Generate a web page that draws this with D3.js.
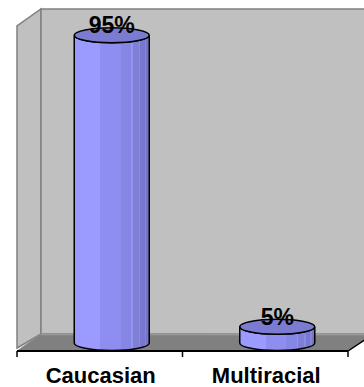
<!DOCTYPE html>
<html>
<head>
<meta charset="utf-8">
<script src="https://cdn.jsdelivr.net/npm/d3@7"></script>
<style>
  html, body { margin: 0; padding: 0; background: #fff; }
  svg { display: block; }
</style>
</head>
<body>
<svg id="chart" width="364" height="387"></svg>
<script>
// Data
const categories = ["Caucasian", "Multiracial"];
const values = [0.95, 0.05];
const valueLabels = ["95%", "5%"];

// Layout
const W = 364, H = 387;
const floorFront = 351;          // y of the front floor edge (category axis)
const plotLeft = 17, plotRight = 348;
const depthX = 24, depthY = -16; // 3-D depth offset of the back wall
const wallTop = 9;               // y of the back wall's top edge

const svg = d3.select("#chart");
const defs = svg.append("defs");

// Vertical shading bands on the cylinders
const grad = defs.append("linearGradient").attr("id", "cyl")
  .attr("x1", 0).attr("x2", 1).attr("y1", 0).attr("y2", 0);
const bands = [
  [0.00, "#9a9aff"], [0.35, "#9a9aff"], [0.35, "#8e8ef0"], [0.62, "#8e8ef0"],
  [0.62, "#8686e4"], [0.76, "#8686e4"], [0.76, "#9494ea"], [0.78, "#9494ea"],
  [0.78, "#7f7fd8"], [0.86, "#7f7fd8"], [0.86, "#8a8ae0"], [0.88, "#8a8ae0"],
  [0.88, "#7878d0"], [0.94, "#7878d0"], [0.94, "#8484da"], [0.96, "#8484da"],
  [0.96, "#7474cc"], [1.00, "#7474cc"]
];
bands.forEach(([o, c]) => grad.append("stop").attr("offset", o).attr("stop-color", c));

// Scales
const x = d3.scaleBand().domain(categories).range([plotLeft, plotRight]).paddingInner(0).paddingOuter(0);
const y = d3.scaleLinear().domain([0, 1]).range([floorFront + depthY / 2, 19]);

const wallStroke = "#808080";

// Side wall (left)
svg.append("polygon")
  .attr("points", [[plotLeft, floorFront - 3], [plotLeft + depthX, floorFront + depthY - 1],
                   [plotLeft + depthX, wallTop], [plotLeft, wallTop - depthY + 1]].join(" "))
  .attr("fill", "#c0c0c0").attr("stroke", wallStroke).attr("stroke-width", 1.5);

// Back wall
svg.append("polygon")
  .attr("points", [[plotLeft + depthX, wallTop], [W + 5, wallTop],
                   [W + 5, floorFront + depthY - 1], [plotLeft + depthX, floorFront + depthY - 1]].join(" "))
  .attr("fill", "#c0c0c0").attr("stroke", wallStroke).attr("stroke-width", 1.5);

// Floor
svg.append("polygon")
  .attr("points", [[plotLeft, floorFront], [plotRight, floorFront],
                   [plotRight + depthX, floorFront + depthY], [plotLeft + depthX, floorFront + depthY - 1]].join(" "))
  .attr("fill", "#808080").attr("stroke", "#8c8c8c").attr("stroke-width", 1);
svg.append("line")
  .attr("x1", plotLeft + depthX).attr("x2", W)
  .attr("y1", floorFront + depthY - 0.5).attr("y2", floorFront + depthY - 0.5)
  .attr("stroke", "#9a9a9a").attr("stroke-width", 1.5);
// Right floor edge
svg.append("line")
  .attr("x1", plotRight).attr("y1", floorFront)
  .attr("x2", plotRight + depthX).attr("y2", floorFront + depthY)
  .attr("stroke", "#000").attr("stroke-width", 1.5);

// Category axis
const axis = svg.append("g");
axis.append("line")
  .attr("x1", plotLeft).attr("x2", plotRight)
  .attr("y1", floorFront).attr("y2", floorFront)
  .attr("stroke", "#000").attr("stroke-width", 2);
const tickXs = [plotLeft].concat(categories.map(c => x(c) + x.bandwidth()));
axis.selectAll("line.tick").data(tickXs).enter().append("line")
  .attr("class", "tick")
  .attr("x1", d => d).attr("x2", d => d)
  .attr("y1", floorFront).attr("y2", floorFront + 6)
  .attr("stroke", "#000").attr("stroke-width", 1.5);
axis.selectAll("text").data(categories).enter().append("text")
  .attr("x", d => x(d) + x.bandwidth() / 2 + 1)
  .attr("y", 383)
  .attr("text-anchor", "middle")
  .attr("font-family", "Liberation Sans, Arial, sans-serif")
  .attr("font-weight", "bold")
  .attr("font-size", 22)
  .attr("fill", "#000")
  .text(d => d);

// Cylinders
const rx = 37.5, ry = 7.5;
const baseY = y(0);
const bars = svg.selectAll("g.bar")
  .data(categories.map((c, i) => ({ c, v: values[i], label: valueLabels[i] })))
  .enter().append("g").attr("class", "bar");

bars.each(function (d) {
  const g = d3.select(this);
  const cx = x(d.c) + x.bandwidth() / 2 + depthX / 2;
  const top = y(d.v);
  // Side of the cylinder: straight sides joined by the front half of the base ellipse
  const body = `M${cx - rx},${top} L${cx - rx},${baseY} A${rx},${ry} 0 0 0 ${cx + rx},${baseY} L${cx + rx},${top} A${rx},${ry} 0 0 1 ${cx - rx},${top} Z`;
  g.append("path").attr("d", body)
    .attr("fill", "url(#cyl)").attr("stroke", "#000").attr("stroke-width", 1.5);
  // Top face
  g.append("ellipse")
    .attr("cx", cx).attr("cy", top).attr("rx", rx).attr("ry", ry)
    .attr("fill", "#7b7bd2").attr("stroke", "#000").attr("stroke-width", 1.5);
  g.append("text")
    .attr("x", cx).attr("y", top - 2)
    .attr("text-anchor", "middle")
    .attr("font-family", "Liberation Sans, Arial, sans-serif")
    .attr("font-weight", "bold")
    .attr("font-size", 23)
    .attr("fill", "#000")
    .text(d.label);
});
</script>
</body>
</html>
